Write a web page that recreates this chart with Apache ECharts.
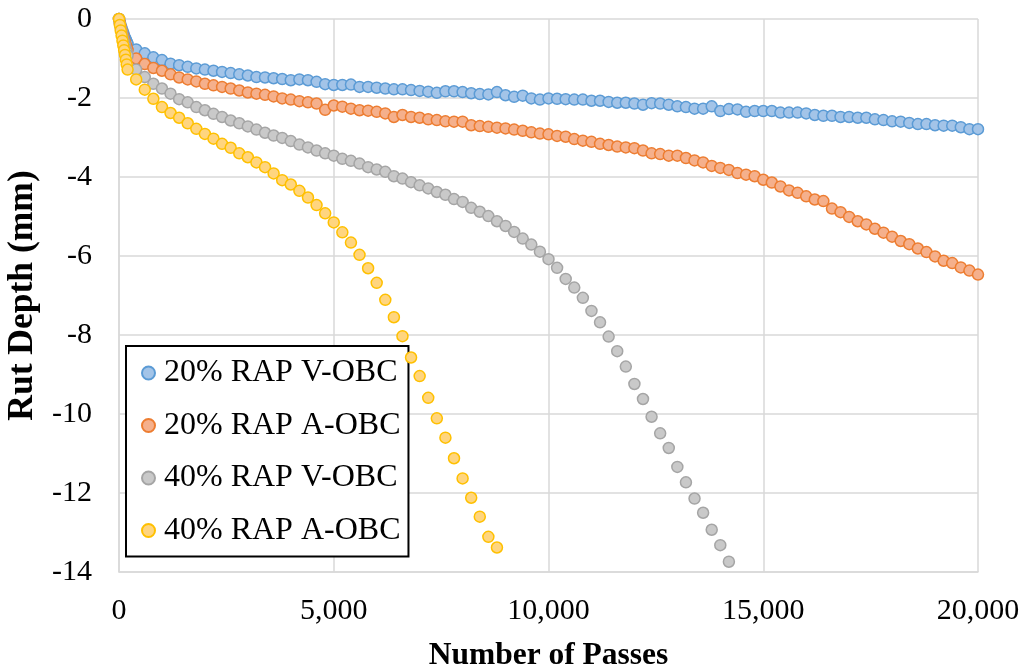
<!DOCTYPE html>
<html>
<head>
<meta charset="utf-8">
<title>Rut Depth vs Number of Passes</title>
<script src="https://cdn.jsdelivr.net/npm/echarts@6/dist/echarts.min.js"></script>
<style>
  html, body { margin: 0; padding: 0; background: #ffffff; }
  #chart { width: 1027px; height: 672px; }
</style>
</head>
<body>
<div id="chart"></div>
<script>
// Wheel passes at which rut depth was recorded (dense readings at the start)
const passes = [
  0, 20, 40, 60, 80, 100, 120, 140, 160, 180, 200,
  400, 600, 800, 1000, 1200, 1400, 1600, 1800, 2000, 2200,
  2400, 2600, 2800, 3000, 3200, 3400, 3600, 3800, 4000, 4200,
  4400, 4600, 4800, 5000, 5200, 5400, 5600, 5800, 6000, 6200,
  6400, 6600, 6800, 7000, 7200, 7400, 7600, 7800, 8000, 8200,
  8400, 8600, 8800, 9000, 9200, 9400, 9600, 9800, 10000, 10200,
  10400, 10600, 10800, 11000, 11200, 11400, 11600, 11800, 12000, 12200,
  12400, 12600, 12800, 13000, 13200, 13400, 13600, 13800, 14000, 14200,
  14400, 14600, 14800, 15000, 15200, 15400, 15600, 15800, 16000, 16200,
  16400, 16600, 16800, 17000, 17200, 17400, 17600, 17800, 18000, 18200,
  18400, 18600, 18800, 19000, 19200, 19400, 19600, 19800, 20000
];

// Rut depth (mm), one value per entry of `passes`, in order
const rap20V = [
  0, -0.08, -0.16, -0.23, -0.30, -0.36, -0.42, -0.48, -0.53, -0.58, -0.63,
  -0.77, -0.87, -0.97, -1.04, -1.13, -1.17, -1.21, -1.25, -1.28, -1.31,
  -1.34, -1.37, -1.40, -1.43, -1.47, -1.48, -1.50, -1.52, -1.55, -1.53,
  -1.55, -1.59, -1.65, -1.67, -1.67, -1.66, -1.72, -1.72, -1.74, -1.76,
  -1.78, -1.78, -1.80, -1.82, -1.84, -1.87, -1.83, -1.83, -1.85, -1.88,
  -1.90, -1.91, -1.85, -1.93, -1.97, -1.94, -2.01, -2.04, -2.01, -2.02,
  -2.03, -2.04, -2.04, -2.07, -2.07, -2.10, -2.12, -2.12, -2.14, -2.17,
  -2.13, -2.14, -2.17, -2.21, -2.23, -2.27, -2.27, -2.21, -2.33, -2.28,
  -2.29, -2.35, -2.33, -2.33, -2.33, -2.37, -2.37, -2.37, -2.39, -2.43,
  -2.45, -2.45, -2.48, -2.48, -2.50, -2.50, -2.54, -2.56, -2.59, -2.60,
  -2.63, -2.66, -2.66, -2.69, -2.70, -2.70, -2.74, -2.79, -2.79
];

const rap20A = [
  0, -0.10, -0.20, -0.29, -0.37, -0.45, -0.52, -0.59, -0.66, -0.72, -0.78,
  -1.00, -1.14, -1.24, -1.31, -1.40, -1.48, -1.53, -1.58, -1.64, -1.68,
  -1.72, -1.76, -1.81, -1.86, -1.89, -1.92, -1.96, -2.01, -2.04, -2.08,
  -2.11, -2.14, -2.30, -2.19, -2.22, -2.27, -2.31, -2.32, -2.35, -2.39,
  -2.48, -2.43, -2.48, -2.50, -2.54, -2.56, -2.59, -2.60, -2.60, -2.69,
  -2.71, -2.73, -2.75, -2.77, -2.80, -2.83, -2.87, -2.90, -2.92, -2.96,
  -2.98, -3.04, -3.08, -3.11, -3.16, -3.19, -3.23, -3.25, -3.27, -3.33,
  -3.40, -3.42, -3.46, -3.46, -3.52, -3.58, -3.63, -3.72, -3.77, -3.82,
  -3.90, -3.94, -3.98, -4.07, -4.14, -4.24, -4.34, -4.40, -4.49, -4.57,
  -4.61, -4.80, -4.89, -5.01, -5.12, -5.20, -5.31, -5.41, -5.51, -5.62,
  -5.70, -5.81, -5.90, -6.01, -6.12, -6.18, -6.29, -6.37, -6.47
];

const rap40V = [
  0, -0.12, -0.23, -0.33, -0.42, -0.51, -0.59, -0.67, -0.75, -0.83, -0.92,
  -1.28, -1.47, -1.64, -1.76, -1.89, -2.03, -2.11, -2.23, -2.31, -2.40,
  -2.48, -2.57, -2.64, -2.72, -2.80, -2.88, -2.95, -3.01, -3.09, -3.18,
  -3.25, -3.33, -3.40, -3.46, -3.54, -3.59, -3.66, -3.75, -3.81, -3.87,
  -3.98, -4.04, -4.13, -4.21, -4.29, -4.38, -4.45, -4.56, -4.63, -4.78,
  -4.88, -4.99, -5.12, -5.24, -5.39, -5.56, -5.71, -5.89, -6.08, -6.30,
  -6.58, -6.80, -7.06, -7.39, -7.68, -8.04, -8.41, -8.80, -9.24, -9.62,
  -10.07, -10.49, -10.86, -11.34, -11.73, -12.14, -12.50, -12.93, -13.32, -13.74
];

const rap40A = [
  0, -0.15, -0.29, -0.42, -0.55, -0.67, -0.79, -0.91, -1.03, -1.15, -1.28,
  -1.53, -1.79, -2.02, -2.23, -2.38, -2.50, -2.64, -2.78, -2.91, -3.03,
  -3.16, -3.26, -3.40, -3.50, -3.63, -3.75, -3.91, -4.08, -4.19, -4.35,
  -4.52, -4.71, -4.92, -5.15, -5.40, -5.66, -5.97, -6.31, -6.68, -7.11,
  -7.55, -8.03, -8.57, -9.04, -9.59, -10.11, -10.60, -11.12, -11.63, -12.12,
  -12.60, -13.11, -13.38
];

const seriesNames = ['20% RAP V-OBC', '20% RAP A-OBC', '40% RAP V-OBC', '40% RAP A-OBC'];
const seriesDepths = [rap20V, rap20A, rap40V, rap40A];
const fillColors = ['#a3c4e8', '#f5b08c', '#c9c9c9', '#ffd57f'];
const edgeColors = ['#5b9bd5', '#ed7d31', '#a5a5a5', '#ffc000'];

const xTicks = [0, 5000, 10000, 15000, 20000];
const yTicks = [0, -2, -4, -6, -8, -10, -12, -14];

const serif = '"Liberation Serif", "Times New Roman", serif';

function pairs(depths) {
  return depths.map((d, i) => [passes[i], d]);
}

const chart = echarts.init(document.getElementById('chart'), null, { renderer: 'canvas' });

chart.setOption({
  animation: false,
  backgroundColor: '#ffffff',
  grid: { left: 119, right: 49, top: 19, bottom: 100, containLabel: false, outerBoundsMode: 'none' },
  xAxis: {
    type: 'value',
    min: xTicks[0],
    max: xTicks[xTicks.length - 1],
    interval: xTicks[1] - xTicks[0],
    name: 'Number of Passes',
    nameLocation: 'middle',
    nameGap: 68,
    nameTextStyle: { fontFamily: serif, fontSize: 31.5, fontWeight: 'bold', color: '#000' },
    axisLine: { show: true, onZero: false, lineStyle: { color: '#d9d9d9', width: 1.5 } },
    axisTick: { show: false },
    splitLine: { show: true, lineStyle: { color: '#d9d9d9', width: 1.5 } },
    axisLabel: {
      fontFamily: serif, fontSize: 30, color: '#000', margin: 24,
      formatter: v => v.toLocaleString('en-US')
    }
  },
  yAxis: {
    type: 'value',
    min: yTicks[yTicks.length - 1],
    max: yTicks[0],
    interval: 2,
    name: 'Rut Depth (mm)',
    nameLocation: 'middle',
    nameGap: 77,
    nameTextStyle: { fontFamily: serif, fontSize: 35.5, fontWeight: 'bold', color: '#000' },
    axisLine: { show: true, onZero: false, lineStyle: { color: '#d9d9d9', width: 1.5 } },
    axisTick: { show: false },
    splitLine: { show: true, lineStyle: { color: '#d9d9d9', width: 1.5 } },
    axisLabel: { fontFamily: serif, fontSize: 30, color: '#000', margin: 27 }
  },
  legend: {
    orient: 'vertical',
    left: 126,
    top: 346,
    padding: [7, 8, 6, 15],
    itemGap: 12.5,
    itemWidth: 21,
    itemHeight: 13,
    backgroundColor: '#ffffff',
    borderColor: '#000000',
    borderWidth: 2,
    borderRadius: 0,
    textStyle: { fontFamily: serif, fontSize: 32, color: '#000', lineHeight: 40 },
    data: seriesNames
  },
  series: seriesNames.map((name, k) => ({
    name: name,
    type: 'scatter',
    symbol: 'circle',
    symbolSize: 11,
    z: 2 + k,
    itemStyle: { color: fillColors[k], borderColor: edgeColors[k], borderWidth: 1.5, opacity: 1 },
    data: pairs(seriesDepths[k])
  }))
});
</script>
</body>
</html>
